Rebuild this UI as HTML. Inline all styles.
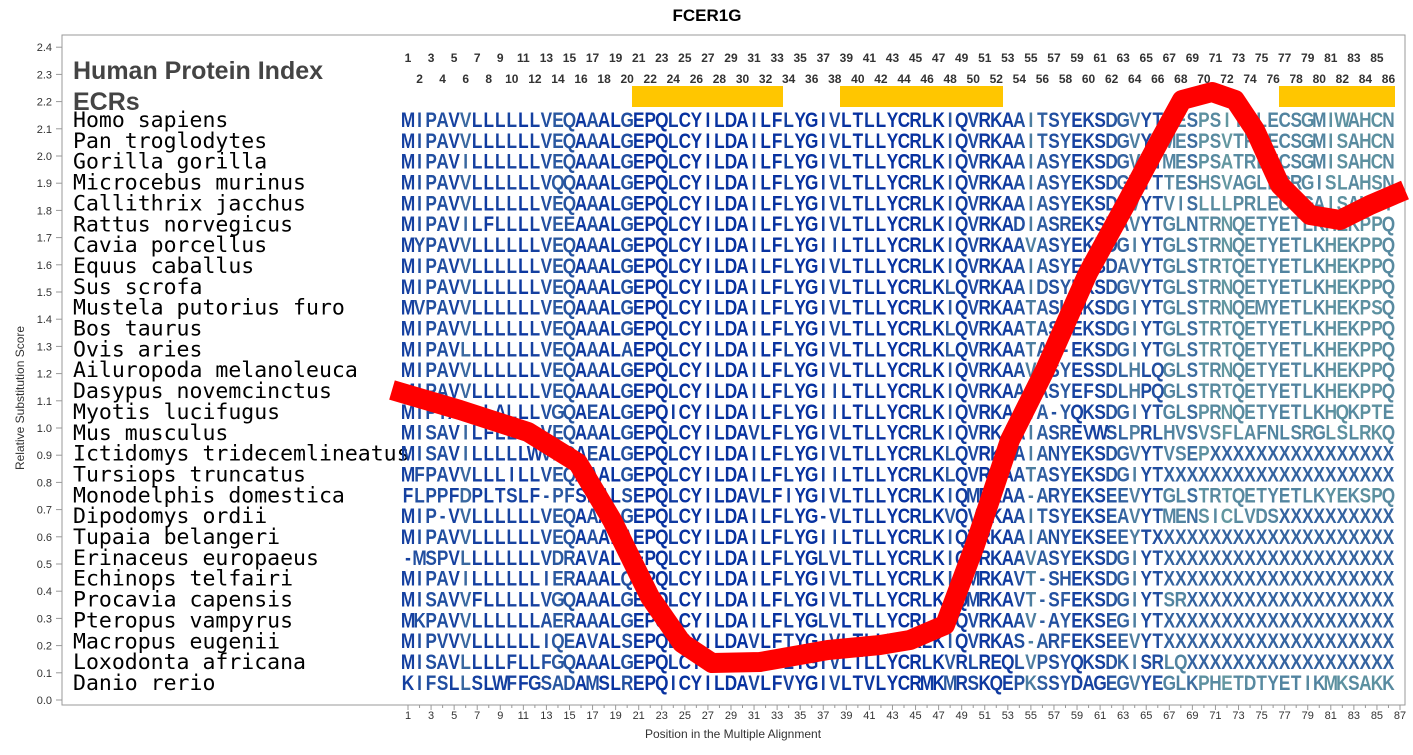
<!DOCTYPE html>
<html><head><meta charset="utf-8"><style>
body{margin:0;background:#fff}
svg text{font-family:"Liberation Sans",sans-serif}
</style></head><body>
<svg id="s" width="1413" height="750" xmlns="http://www.w3.org/2000/svg">
<rect width="1413" height="750" fill="#fff"/>
<text x="707" y="21" text-anchor="middle" font-size="17" font-weight="bold">FCER1G</text>
<rect x="62" y="35" width="1343" height="670" fill="none" stroke="#999" stroke-width="1"/>
<text transform="translate(24,398) rotate(-90)" text-anchor="middle" font-size="12" fill="#333">Relative Substitution Score</text>
<text x="733" y="738" text-anchor="middle" font-size="12" fill="#333">Position in the Multiple Alignment</text>
<text x="73" y="79" font-size="25" font-weight="bold" fill="#444">Human Protein Index</text>
<text x="73" y="110" font-size="25" font-weight="bold" fill="#444">ECRs</text>
<rect x="632" y="86" width="151" height="21" fill="#ffc600"/>
<rect x="840" y="86" width="163" height="21" fill="#ffc600"/>
<rect x="1279" y="86" width="116" height="21" fill="#ffc600"/>
<g id="g"></g>
<polyline fill="none" stroke="#ff0000" stroke-width="20" stroke-linejoin="round" points="392,390 460,410 528,432 578,463 612,520 650,597 682,643 712,663 760,662 828,650 880,645 910,640 945,625 975,545 1010,440 1045,370 1088,273 1128,200 1160,140 1182,100 1212,92 1235,100 1255,130 1280,185 1310,215 1340,220 1370,205 1405,190"/>
</svg>
<script>
const S=document.getElementById('g');const NS='http://www.w3.org/2000/svg';
function T(x,y,t,a){const e=document.createElementNS(NS,'text');e.setAttribute('x',x);e.setAttribute('y',y);for(const k in a)e.setAttribute(k,a[k]);e.textContent=t;S.appendChild(e);return e;}
function L(x1,y1,x2,y2,c){const e=document.createElementNS(NS,'line');e.setAttribute('x1',x1);e.setAttribute('y1',y1);e.setAttribute('x2',x2);e.setAttribute('y2',y2);e.setAttribute('stroke',c);S.appendChild(e);}
const X=i=>408+(i-1)*11.535;
for(let i=0;i<=24;i++){const y=700-i*27.2;T(52,y+4,(i/10).toFixed(1),{'text-anchor':'end','font-size':11,fill:'#333'});L(56,y,62,y,'#999');}
for(let i=1;i<=87;i++){L(X(i),705,X(i),i%2?710:708,'#999');if(i%2)T(X(i),719,i,{'text-anchor':'middle','font-size':11,fill:'#333'});}
for(let i=1;i<=86;i++){T(X(i),i%2?62:83,i,{'text-anchor':'middle','font-size':12,'font-weight':'bold',fill:'#333'});}
const D=[["Homo sapiens","MIPAVVLLLLLLVEQAAALGEPQLCYILDAILFLYGIVLTLLYCRLKIQVRKAAITSYEKSDGVYTMESPSITRLECSGMIWAHCN"],
["Pan troglodytes","MIPAVVLLLLLLVEQAAALGEPQLCYILDAILFLYGIVLTLLYCRLKIQVRKAAITSYEKSDGVYTMESPSVTRLECSGMISAHCN"],
["Gorilla gorilla","MIPAVILLLLLLVEQAAALGEPQLCYILDAILFLYGIVLTLLYCRLKIQVRKAAIASYEKSDGVYTMESPSATRLECSGMISAHCN"],
["Microcebus murinus","MIPAVVLLLLLLVQQAAALGEPQLCYILDAILFLYGIVLTLLYCRLKIQVRKAAIASYEKSDGVYTTESHSVAGLECRGISLAHSN"],
["Callithrix jacchus","MIPAVVLLLLLLVEQAAALGEPQLCYILDAILFLYGIVLTLLYCRLKIQVRKAAIASYEKSDGVYTVISLLLPRLECNGAISAHCT"],
["Rattus norvegicus","MIPAVILFLLLLVEEAAALGEPQLCYILDAILFLYGIVLTLLYCRLKIQVRKADIASREKSDAVYTGLNTRNQETYETLKHEKPPQ"],
["Cavia porcellus","MYPAVVLLLLLLVEQAAALGEPQLCYILDAILFLYGIILTLLYCRLKIQVRKAAVASYEKPDGIYTGLSTRNQETYETLKHEKPPQ"],
["Equus caballus","MIPAVVLLLLLLVEQAAALGEPQLCYILDAILFLYGIVLTLLYCRLKIQVRKAAIASYEKSDAVYTGLSTRTQETYETLKHEKPPQ"],
["Sus scrofa","MIPAVVLLLLLLVEQAAALGEPQLCYILDAILFLYGIVLTLLYCRLKLQVRKAAIDSYEKSDGVYTGLSTRNQETYETLKHEKPPQ"],
["Mustela putorius furo","MVPAVVLLLLLLVEQAAALGEPQLCYILDAILFLYGIVLTLLYCRLKIQVRKAATASHEKSDGIYTGLSTRNQEMYETLKHEKPSQ"],
["Bos taurus","MIPAVVLLLLLLVEQAAALGEPQLCYILDAILFLYGIVLTLLYCRLKLQVRKAATAS-EKSDGIYTGLSTRTQETYETLKHEKPPQ"],
["Ovis aries","MIPAVLLLLLLLVEQAAALAEPQLCYILDAILFLYGIVLTLLYCRLKLQVRKAATAS-EKSDGIYTGLSTRTQETYETLKHEKPPQ"],
["Ailuropoda melanoleuca","MIPAVVLLLLLLVEQAAALGEPQLCYILDAILFLYGIVLTLLYCRLKIQVRKAAVASYESSDLHLQGLSTRNQETYETLKHEKPPQ"],
["Dasypus novemcinctus","MIPAVVLLLLLLVEQAAALGEPQLCYILDAILFLYGIILTLLYCRLKIQVRKAAIASYEFSDLHPQGLSTRTQETYETLKHEKPPQ"],
["Myotis lucifugus","MIPTALLLALLLVGQAEALGEPQICYILDAILFLYGIILTLLYCRLKIQVRKAAVA-YQKSDGIYTGLSPRNQETYETLKHQKPTE"],
["Mus musculus","MISAVILFLLLLVEQAAALGEPQLCYILDAVLFLYGIVLTLLYCRLKIQVRKAAIASREVWSLPRLHVSVSFLAFNLSRGLSLRKQ"],
["Ictidomys tridecemlineatus","MISAVILLLLLWVEQAEALGEPQLCYILDAILFLYGIVLTLLYCRLKLQVRKAAIANYEKSDGVYTVSEPXXXXXXXXXXXXXXXX"],
["Tursiops truncatus","MFPAVVLLLILLVEQAAALGEPQLCYILDAILFLYGIILTLLYCRLKLQVRKAATASYEKSDGIYTXXXXXXXXXXXXXXXXXXXX"],
["Monodelphis domestica","FLPPFDPLTSLF-PFSEALSEPQLCYILDAVLFIYGIVLTLLYCRLKIQMRKAA-ARYEKSEEVYTGLSTRTQETYETLKYEKSPQ"],
["Dipodomys ordii","MIP-VVLLLLLLVEQAAALGEPQLCYILDAILFLYG-VLTLLYCRLKVQVRKAAITSYEKSEAVYTMENSICLVDSXXXXXXXXXX"],
["Tupaia belangeri","MIPAVVLLLLLLVEQAAALAEPQLCYILDAILFLYGIILTLLYCRLKIQVRKAAIANYEKSEEYTXXXXXXXXXXXXXXXXXXXXX"],
["Erinaceus europaeus","-MSPVLLLLLLLVDRAVALGEPQLCYILDAILFLYGLVLTLLYCRLKIQVRKAAVASYEKSDGIYTXXXXXXXXXXXXXXXXXXXX"],
["Echinops telfairi","MIPAVILLLLLLIERAAALQEPQLCYILDAILFLYGIVLTLLYCRLKIQMRKAVT-SHEKSDGIYTXXXXXXXXXXXXXXXXXXXX"],
["Procavia capensis","MISAVVFLLLLLVGQAAALGEPQLCYILDAILFLYGIVLTLLYCRLKIQMRKAVT-SFEKSDGIYTSRXXXXXXXXXXXXXXXXXX"],
["Pteropus vampyrus","MKPAVVLLLLLLAERAAALGEPQLCYILDAILFLYGLVLTLLYCRLKIQVRKAAV-AYEKSEGIYTXXXXXXXXXXXXXXXXXXXX"],
["Macropus eugenii","MIPVVVLLLLLLIQEAVALSEPQLCYILDAVLFTYGIVLTLLYCRLKIQVRKAS-ARFEKSEEVYTXXXXXXXXXXXXXXXXXXXX"],
["Loxodonta africana","MISAVLLLLFLLFGQAAALGEPQLCYILDAILFLYGIVLTLLYCRLKVRLREQLVPSYQKSDKISRLQXXXXXXXXXXXXXXXXXX"],
["Danio rerio","KIFSLLSLWFFGSADAMSLREPQICYILDAVLFVYGIVLTVLYCRMKMRSKQEPKSSYDAGEGVYEGLKPHETDTYETIKMKSAKK"]];
const cons=[];for(let c=0;c<86;c++){const m={};D.forEach(r=>{const ch=r[1][c];m[ch]=(m[ch]||0)+1});cons.push(Math.max(...Object.values(m))/D.length);}
function col(c,ch){let t=Math.max(0,Math.min(1,(cons[c]-0.2)/0.8));if(ch=='X')t=Math.max(t,0.55);const a=[125,180,160],b=[8,50,160];const k=Math.pow(t,0.8);return `rgb(${Math.round(a[0]+(b[0]-a[0])*k)},${Math.round(a[1]+(b[1]-a[1])*k)},${Math.round(a[2]+(b[2]-a[2])*k)})`;}
D.forEach((r,i)=>{const y=127+i*20.85;
T(73,y,r[0],{'font-size':21.5,fill:'#000',style:'font-family:"DejaVu Sans Mono",monospace'});
});
D.forEach((r,i)=>{const y=127+i*20.85;
for(let c=0;c<86;c++){const ch=r[1][c];const x=X(c+1);T(x,y,ch,{'text-anchor':'middle','font-size':21,'font-weight':'bold',fill:col(c,ch),transform:`translate(${x},0) scale(0.82,1) translate(${-x},0)`});}
});
</script>
</body></html>
